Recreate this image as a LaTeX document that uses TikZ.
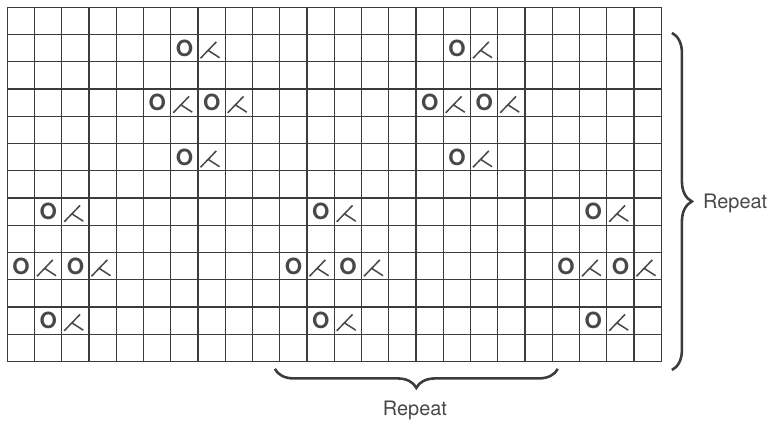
\documentclass[tikz,border=0pt]{standalone}
\usepackage{fontspec}
\setmainfont{TeX Gyre Heros}
\usetikzlibrary{decorations.pathreplacing}
\definecolor{gridink}{HTML}{3C3C3C}
\definecolor{markink}{HTML}{484848}

\begin{document}
\begin{tikzpicture}[x=0.8175cm,y=-0.8175cm,
  cellline/.style={gridink,line width=0.95pt},
  yarnover/.style={font=\fontsize{19}{19}\selectfont\bfseries,text=markink,inner sep=0pt},
  decstroke/.style={markink,line width=1.3pt},
  repbrace/.style={gridink,line width=2.2pt,decorate,decoration={brace,amplitude=#1}},
  reptext/.style={font=\fontsize{17}{20}\selectfont,text=markink,inner sep=0pt}]
\useasboundingbox (-0.268,-0.268) rectangle (28.026,15.18);
% chart grid, 24 stitches by 13 rows
\foreach \i in {0,...,24} \draw[cellline] (\i,0) -- (\i,13);
\foreach \j in {0,...,13} \draw[cellline] (0,\j) -- (24,\j);
% lace diamonds: O = yarn over, then the decrease
\foreach \c/\r in {6/1,16/1,1/7,11/7,21/7} {
  \foreach \dc/\dr in {0/0,-1/2,1/2,0/4} {
    \node[yarnover] (yo\c\dc\dr) at (\c+\dc+0.5,\r+\dr+0.5) {O};
    \draw[decstroke,shift={(\c+\dc+1,\r+\dr)}] (0.09,0.87) -- (0.67,0.27) (0.37,0.58) -- (0.79,0.85);
  }
}
% repeats
\coordinate (rtop) at (24.39,0.94);
\coordinate (rbot) at (24.39,13.31);
\draw[repbrace=0.6cm] (rtop) -- (rbot);
\node[reptext,anchor=west] (rowrep) at (25.53,7.18) {Repeat};
\coordinate (bright) at (20.2,13.27);
\coordinate (bleft) at (9.82,13.27);
\draw[repbrace=0.57cm] (bright) -- (bleft);
\node[reptext] (strep) at (14.96,14.78) {Repeat};
\end{tikzpicture}
\end{document}
